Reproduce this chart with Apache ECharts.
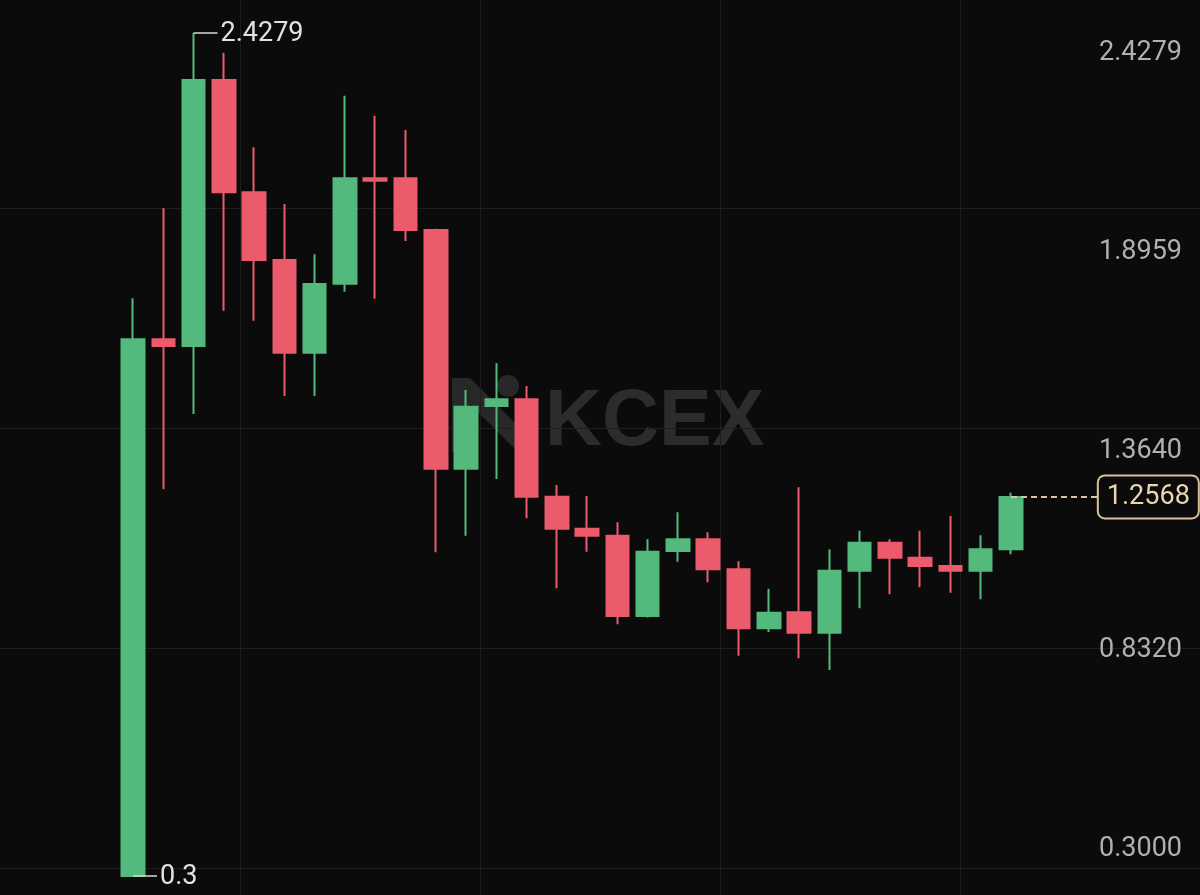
<!DOCTYPE html>
<html>
<head>
<meta charset="utf-8">
<script src="https://cdn.jsdelivr.net/npm/echarts@6/dist/echarts.min.js"></script>
<style>
html,body{margin:0;padding:0;background:#0b0b0b;}
#chart{width:1200px;height:895px;}
</style>
</head>
<body>
<div id="chart"></div>
<script>
// ---- data ----
const categories = ['K01','K02','K03','K04','K05','K06','K07','K08','K09','K10',
                    'K11','K12','K13','K14','K15','K16','K17','K18','K19','K20',
                    'K21','K22','K23','K24','K25','K26','K27','K28','K29','K30'];
const openValues  = [0.3000,1.6548,1.6379,2.3093,2.0258,1.8550,1.6210,1.7950,2.0612,2.0612,
                     1.9307,1.3282,1.4865,1.5034,1.2575,1.1768,1.1586,0.9564,1.1205,1.1500,
                     1.0743,0.9254,0.9657,0.9143,1.0708,1.1414,1.1036,1.0826,1.0708,1.1248];
const closeValues = [1.6548,1.6379,2.3093,2.0258,1.8550,1.6210,1.7944,2.0612,2.0551,1.9307,
                     1.3282,1.4847,1.5034,1.2575,1.1768,1.1591,0.9564,1.1187,1.1500,1.0743,
                     0.9254,0.9647,0.9143,1.0708,1.1414,1.1036,1.0826,1.0708,1.1248,1.2568];
const lowValues   = [0.3000,1.2762,1.4663,1.7270,1.7018,1.5117,1.5117,1.7749,1.7573,1.9029,
                     1.1172,1.1591,1.3022,1.2030,1.0263,1.1187,0.9355,0.9522,1.0935,1.0415,
                     0.8562,0.9160,0.8496,0.8201,0.9758,1.0112,1.0289,1.0152,0.9986,1.1122];
const highValues  = [1.7583,1.9854,2.4279,2.3782,2.1394,1.9963,1.8693,2.2696,2.2192,2.1831,
                     1.9340,1.5268,1.5942,1.5369,1.2871,1.2593,1.1929,1.1500,1.2182,1.1677,
                     1.0945,1.0253,1.2812,1.1248,1.1717,1.1500,1.1717,1.2088,1.1601,1.2676];
const priceTickLabels = ['0.3000','0.8320','1.3640','1.8959','2.4279'];
const lastPrice = 1.2568;

// ---- build options ----
const UP = '#53b97d', DOWN = '#eb5b6b';
const candleData = categories.map((c, i) => [openValues[i], closeValues[i], lowValues[i], highValues[i]]);
const padCount = 3;
const axisCategories = categories.concat(Array.from({length: padCount}, (_, i) => ' '.repeat(i + 1)));
const FONT = 'Roboto';

const hiddenAxis = (gridIndex, extra) => Object.assign({
  gridIndex, type: 'value', show: false
}, extra || {});

const chart = echarts.init(document.getElementById('chart'), null, {renderer: 'canvas'});
const option = {
  backgroundColor: '#0b0b0b',
  animation: false,
  grid: [
    {left: 240, width: 720, top: 0, height: 895},      // vertical grid lines
    {left: 0, width: 1200, top: 208, height: 660},     // horizontal grid lines
    {left: 117.86, width: 999.1, top: 33, height: 843}, // candles
    {left: 0, right: 18, top: 53.5, height: 796}       // price scale labels
  ],
  xAxis: [
    {gridIndex: 0, type: 'value', min: 0, max: 720, interval: 240,
     axisLine: {show: false}, axisTick: {show: false}, axisLabel: {show: false},
     splitLine: {show: true, lineStyle: {color: '#1e1e1e', width: 1}}},
    hiddenAxis(1, {min: 0, max: 1}),
    {gridIndex: 2, type: 'category', data: axisCategories, show: false, boundaryGap: true},
    hiddenAxis(3, {min: 0, max: 1})
  ],
  yAxis: [
    hiddenAxis(0, {min: 0, max: 1}),
    {gridIndex: 1, type: 'value', min: 0, max: 660, interval: 220,
     axisLine: {show: false}, axisTick: {show: false}, axisLabel: {show: false},
     splitLine: {show: true, lineStyle: {color: '#1e1e1e', width: 1}}},
    {gridIndex: 2, type: 'value', min: 0.3, max: 2.4279, show: false, scale: true},
    {gridIndex: 3, type: 'value', min: 0, max: priceTickLabels.length - 1, interval: 1,
     position: 'right',
     axisLine: {show: false}, axisTick: {show: false}, splitLine: {show: false},
     axisLabel: {show: true, inside: true, margin: 0, color: '#b0b0b0',
                 fontSize: 27, fontFamily: FONT,
                 formatter: v => priceTickLabels[v]}}
  ],
  graphic: [
    {type: 'group', z: 0, silent: true, children: [
      {type: 'circle', shape: {cx: 508, cy: 386, r: 11}, style: {fill: '#282828'}},
      {type: 'polygon', shape: {points: [[452,378],[470,378],[532,440],[518,452],[470,404],[470,452],[452,452]]},
       style: {fill: '#282828'}},
      {type: 'text', style: {x: 545, y: 423, text: 'KCEX', fill: '#2c2c2c',
        font: 'bold 79px "Liberation Sans"', textVerticalAlign: 'middle', textAlign: 'left'}}
    ]}
  ],
  series: [{
    type: 'candlestick',
    xAxisIndex: 2,
    yAxisIndex: 2,
    data: candleData,
    barWidth: 23,
    z: 3,
    itemStyle: {color: UP, color0: DOWN, borderColor: UP, borderColor0: DOWN, borderWidth: 2},
    markPoint: {
      silent: true,
      symbol: 'rect',
      symbolSize: [24, 1.5],
      symbolOffset: [12, 0],
      itemStyle: {color: '#d8d8d8'},
      label: {show: true, position: 'right', distance: 3, color: '#e2e2e2',
              fontSize: 27, fontFamily: FONT, offset: [0, 1.5], formatter: p => String(p.value)},
      data: [{type: 'max', valueDim: 'highest'}, {type: 'min', valueDim: 'lowest'}]
    },
    markLine: {
      silent: true,
      symbol: ['none', 'none'],
      lineStyle: {color: '#dcc4a0', type: [6, 4], width: 2},
      label: {show: true, position: 'end', distance: -3,
              formatter: () => lastPrice.toFixed(4),
              color: '#ebd5b3', fontSize: 27, fontFamily: FONT,
              backgroundColor: '#0b0b0b', borderColor: '#d9c19d', borderWidth: 2,
              borderRadius: 6, padding: [8, 8, 6, 8]},
      data: [[{coord: [categories.length - 1, lastPrice]},
              {coord: [axisCategories.length - 1, lastPrice]}]]
    }
  }]
};
chart.setOption(option);
</script>
</body>
</html>
